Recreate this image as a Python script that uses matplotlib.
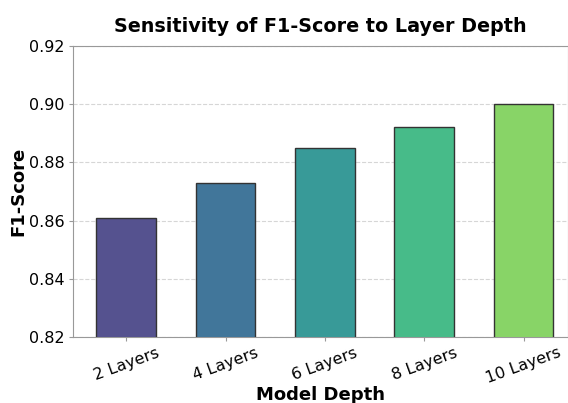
import matplotlib
matplotlib.use("Agg")
import matplotlib.pyplot as plt

categories = ["2 Layers", "4 Layers", "6 Layers", "8 Layers", "10 Layers"]
f1_scores = [0.861, 0.873, 0.885, 0.892, 0.900]
colors = ["#55528f", "#41769a", "#389a98", "#47bb89", "#88d467"]
yticks = [0.82, 0.84, 0.86, 0.88, 0.90, 0.92]

fig = plt.figure(figsize=(5.68, 4.03), dpi=100)
ax = fig.add_axes([0.1285, 0.164, 0.872, 0.722])

x = range(len(categories))
ax.bar(x, f1_scores, width=0.6, color=colors, edgecolor="#333333", linewidth=1.0, zorder=3)
ax.set_ylim(0.82, 0.92)
ax.set_yticks(yticks)
ax.set_yticklabels([f"{v:.2f}" for v in yticks], fontsize=11.5)
ax.set_xticks(list(x))
ax.set_xticklabels(categories, rotation=20, fontsize=11.5)
ax.set_xlim(-0.535, 4.45)
ax.grid(axis="y", linestyle="--", color="#cccccc", linewidth=0.8, alpha=0.8, zorder=0)
for s in ax.spines.values():
    s.set_color("#999999")
ax.tick_params(colors="#999999", labelcolor="black", length=3, pad=3)
ax.set_title("Sensitivity of F1-Score to Layer Depth", fontsize=13.8, fontweight="bold", pad=10)
ax.set_xlabel("Model Depth", fontsize=13, fontweight="bold", labelpad=0)
ax.set_ylabel("F1-Score", fontsize=13, fontweight="bold", labelpad=1)

fig.savefig("out.png", dpi=100)
